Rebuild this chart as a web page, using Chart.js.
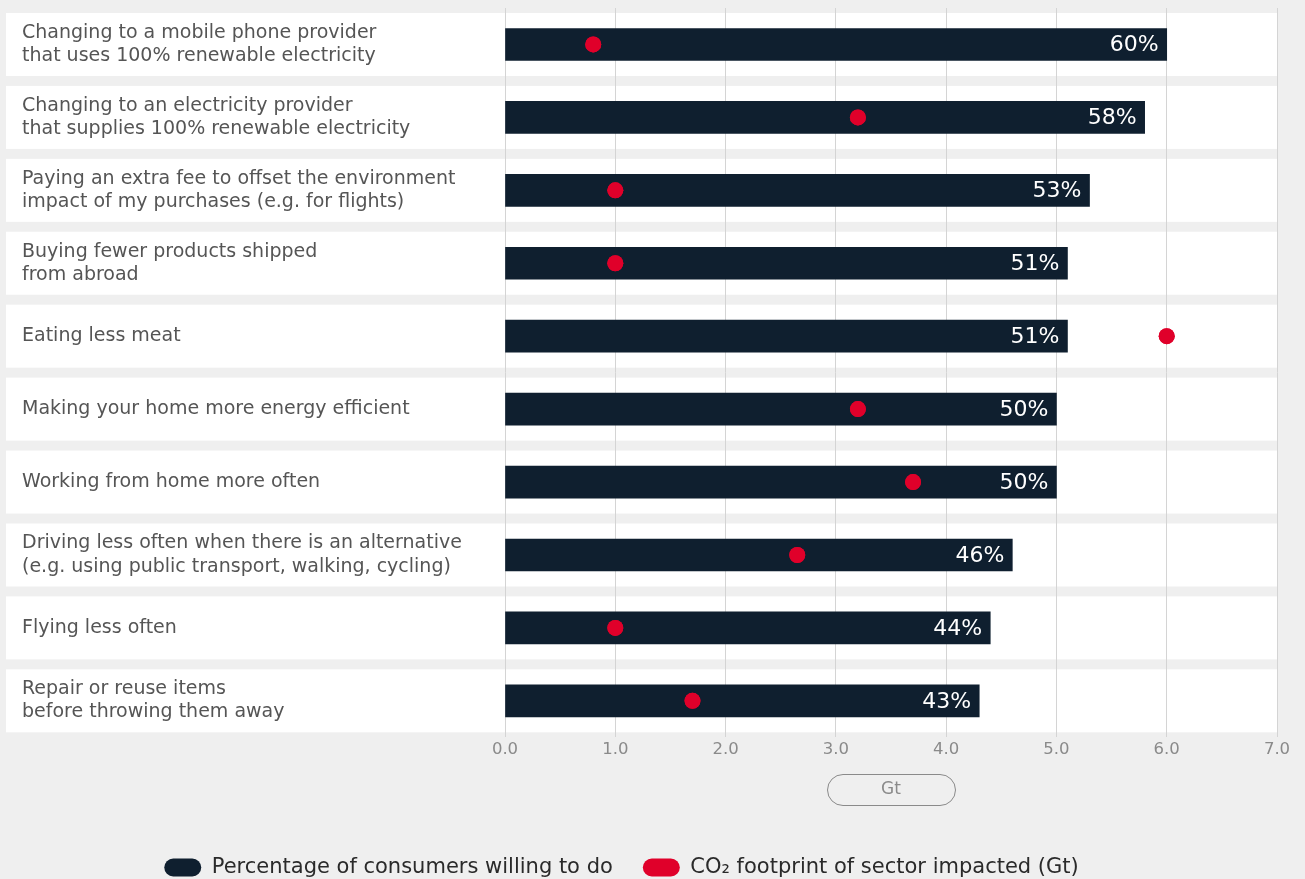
<!DOCTYPE html>
<html>
<head>
<meta charset="utf-8">
<script src="https://cdn.jsdelivr.net/npm/chart.js@4.4.1/dist/chart.umd.min.js"></script>
<style>
  html, body { margin: 0; padding: 0; background: #efefef; }
  #wrap { width: 1305px; height: 879px; position: relative; }
</style>
</head>
<body>
<div id="wrap"><canvas id="c" width="1305" height="879"></canvas></div>
<script>
const categories = [
  ["Changing to a mobile phone provider", "that uses 100% renewable electricity"],
  ["Changing to an electricity provider", "that supplies 100% renewable electricity"],
  ["Paying an extra fee to offset the environment", "impact of my purchases (e.g. for flights)"],
  ["Buying fewer products shipped", "from abroad"],
  "Eating less meat",
  "Making your home more energy efficient",
  "Working from home more often",
  ["Driving less often when there is an alternative", "(e.g. using public transport, walking, cycling)"],
  "Flying less often",
  ["Repair or reuse items", "before throwing them away"]
];
const willingPct = [60, 58, 53, 51, 51, 50, 50, 46, 44, 43];
const co2Gt = [0.8, 3.2, 1.0, 1.0, 6.0, 3.2, 3.7, 2.65, 1.0, 1.7];
const xTicks = [0, 1, 2, 3, 4, 5, 6, 7];

const NAVY = '#0f1f2f';
const RED = '#e0002a';
const FONT = "'DejaVu Sans', 'Open Sans', sans-serif";

const rowBg = {
  id: 'rowBg',
  beforeDraw(chart) {
    const {ctx, chartArea, scales: {y}} = chart;
    ctx.save();
    ctx.fillStyle = '#efefef';
    ctx.fillRect(0, 0, chart.width, chart.height);
    ctx.fillStyle = '#ffffff';
    categories.forEach((c, i) => {
      const cy = y.getPixelForValue(i);
      ctx.fillRect(6, cy - 31.5, chartArea.right + 1 - 6, 63);
    });
    ctx.restore();
  }
};

const barLabels = {
  id: 'barLabels',
  afterDatasetsDraw(chart) {
    const {ctx} = chart;
    const meta = chart.getDatasetMeta(0);
    ctx.save();
    ctx.fillStyle = '#ffffff';
    ctx.font = "22px " + FONT;
    ctx.textAlign = 'right';
    ctx.textBaseline = 'middle';
    meta.data.forEach((bar, i) => {
      ctx.fillText(willingPct[i] + '%', bar.x - 8, bar.y + 1);
    });
    ctx.restore();
    const m2 = chart.getDatasetMeta(1);
    m2.data.forEach(p => p.draw(ctx));
  }
};

const titlePill = {
  id: 'titlePill',
  afterDraw(chart) {
    const x = chart.scales.x;
    const t = x.options.title;
    const lh = 17 * 1.2;
    const cy = x.bottom - t.padding.bottom - lh / 2;
    const cx = (x.left + x.right) / 2;
    const w = 128, h = 31, r = 15.5;
    const {ctx} = chart;
    ctx.save();
    ctx.strokeStyle = '#8a8a8a';
    ctx.lineWidth = 1;
    ctx.beginPath();
    ctx.roundRect(Math.round(cx - w / 2) + 0.5, Math.round(cy - h / 2) + 0.5, w, h, r);
    ctx.stroke();
    ctx.restore();
  }
};

const legendShift = {
  id: 'legendShift',
  afterLayout(chart) {
    const lg = chart.legend;
    const dx = 28, dy = 9;
    lg.left -= dx; lg.right -= dx;
    lg.top += dy; lg.bottom += dy;
  }
};

new Chart(document.getElementById('c'), {
  type: 'bar',
  data: {
    labels: categories,
    datasets: [
      {
        label: 'Percentage of consumers willing to do',
        data: willingPct.map(p => p / 10),
        backgroundColor: NAVY,
        borderWidth: 0,
        barThickness: 32,
        order: 2
      },
      {
        type: 'line',
        label: 'CO\u2082 footprint of sector impacted (Gt)',
        data: co2Gt,
        showLine: false,
        pointRadius: 8,
        pointHoverRadius: 8,
        pointBackgroundColor: RED,
        pointBorderWidth: 0,
        backgroundColor: RED,
        borderColor: RED,
        order: 1
      }
    ]
  },
  options: {
    indexAxis: 'y',
    responsive: false,
    animation: false,
    layout: { padding: { left: 22, right: 28, top: 7, bottom: 0 } },
    scales: {
      x: {
        min: 0,
        max: 7,
        afterBuildTicks(scale) { scale.ticks = xTicks.map(v => ({value: v})); },
        grid: { color: '#d4d4d4', lineWidth: 1, drawTicks: false },
        border: { display: false },
        ticks: {
          padding: 3,
          color: '#8a8a8a',
          font: { family: FONT, size: 16.5 },
          callback: v => Number(v).toFixed(1)
        },
        title: {
          display: true,
          text: 'Gt',
          color: '#8a8a8a',
          font: { family: FONT, size: 17 },
          padding: { top: 16, bottom: 18.5 }
        }
      },
      y: {
        grid: { display: false },
        border: { display: false },
        afterFit(scale) { scale.width = 483; scale.paddingTop = 0; scale.paddingBottom = 0; },
        ticks: {
          crossAlign: 'far',
          color: '#555555',
          font: { family: FONT, size: 19, lineHeight: 1.22 }
        }
      }
    },
    plugins: {
      tooltip: { enabled: false },
      legend: {
        position: 'bottom',
        labels: {
          sort: (a, b) => a.datasetIndex - b.datasetIndex,
          boxWidth: 37,
          boxHeight: 18,
          useBorderRadius: true,
          borderRadius: 9,
          padding: 30,
          color: '#2a2a2a',
          font: { family: FONT, size: 21 },
          generateLabels(chart) {
            return chart.data.datasets.map((ds, i) => ({
              text: ds.label,
              fillStyle: i === 0 ? NAVY : RED,
              strokeStyle: i === 0 ? NAVY : RED,
              lineWidth: 0,
              hidden: false,
              datasetIndex: i,
              borderRadius: 9,
              fontColor: '#2a2a2a'
            }));
          }
        }
      }
    }
  },
  plugins: [rowBg, barLabels, titlePill, legendShift]
});
</script>
</body>
</html>
